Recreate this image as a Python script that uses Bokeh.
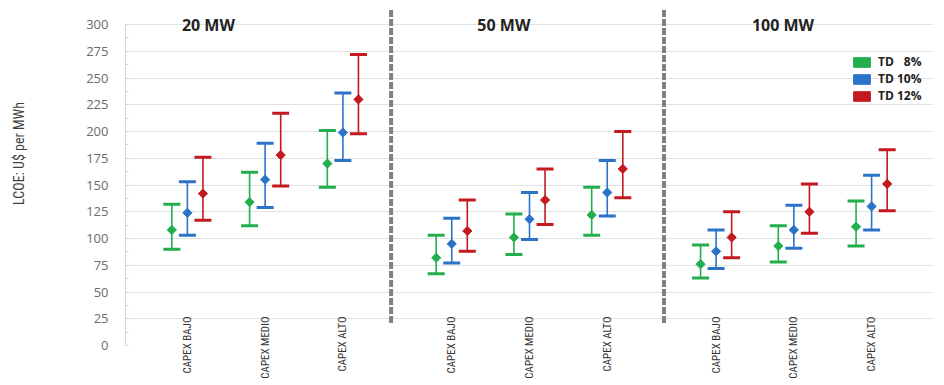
from math import pi
from bokeh.plotting import figure
from bokeh.models import (ColumnDataSource, FactorRange, Range1d, Legend, LegendItem,
                          SingleIntervalTicker)
from bokeh.transform import dodge
from bokeh.embed import file_html
from bokeh.resources import INLINE
from bokeh.core.properties import value

# ---------------- data ----------------
groups = ["20 MW", "50 MW", "100 MW"]
capex = ["CAPEX BAJO", "CAPEX MEDIO", "CAPEX ALTO"]
series = ["TD \u20078%", "TD 10%", "TD 12%"]

# order: 20 MW (bajo, medio, alto), 50 MW (...), 100 MW (...)
td8_low = [90, 112, 148, 67, 85, 103, 63, 78, 93]
td8_mid = [108, 134, 170, 82, 101, 122, 76, 93, 111]
td8_high = [132, 162, 201, 103, 123, 148, 94, 112, 135]

td10_low = [103, 129, 173, 77, 99, 121, 72, 91, 108]
td10_mid = [124, 155, 199, 95, 118, 143, 88, 108, 130]
td10_high = [153, 189, 236, 119, 143, 173, 108, 131, 159]

td12_low = [117, 149, 198, 88, 113, 138, 82, 105, 126]
td12_mid = [142, 178, 230, 107, 136, 165, 101, 125, 151]
td12_high = [176, 217, 272, 136, 165, 200, 125, 151, 183]

y_label = "LCOE: U$ per MWh"

# ---------------- styling ----------------
colors = ["#22AE4C", "#2B73C8", "#C3191F"]
series_dodge = [-0.2, 0.0, 0.2]
title_dx = [0.27, 0.67, 0.86]
divider_dx = [0.62, 0.73]
narrow = "'Liberation Sans Narrow', 'Arial Narrow', 'Roboto Condensed', sans-serif"
nan = float("nan")

factors = [(g, c) for g in groups for c in capex]

x_range = FactorRange(*factors, group_padding=0.4, range_padding=0.296,
                      range_padding_units="absolute")
p = figure(width=944, height=385, x_range=x_range, y_range=Range1d(0, 318.7),
           output_backend="svg", toolbar_location=None,
           min_border_left=125, min_border_right=11, min_border_top=4,
           min_border_bottom=40)
p.outline_line_color = None
p.background_fill_color = "white"

# axes
p.xgrid.grid_line_color = None
p.ygrid.grid_line_color = "#e2e2e2"
p.ygrid.grid_line_width = 1

yax = p.yaxis[0]
yax.ticker = SingleIntervalTicker(interval=25, num_minor_ticks=2)
yax.bounds = (0, 300)
yax.axis_line_color = "#d4d4d4"
yax.major_tick_in = 0
yax.major_tick_out = 0
yax.minor_tick_in = 3
yax.minor_tick_out = 0
yax.minor_tick_line_color = "#d4d4d4"
yax.major_label_standoff = 17
yax.major_label_text_font = "Open Sans"
yax.major_label_text_font_size = "13px"
yax.major_label_text_color = "#6b6b6b"
# leading em-spaces lift the centred title to where the reference has it
yax.axis_label = "\u2003\u2003\u2003\u2002" + y_label
yax.axis_label_standoff = 56
yax.axis_label_text_font = narrow
yax.axis_label_text_font_size = "14px"
yax.axis_label_text_font_style = "normal"
yax.axis_label_text_color = "#404040"

xax = p.xaxis[0]
xax.axis_line_color = None
xax.major_tick_line_color = None
xax.minor_tick_line_color = None
xax.major_label_orientation = pi / 2
xax.major_label_standoff = -35
xax.major_label_text_font = narrow
xax.major_label_text_font_size = "11px"
xax.major_label_text_color = "#333333"
xax.group_text_font_size = "0px"
xax.group_text_alpha = 0
xax.separator_line_color = None

# dividers between groups
for g, dx in zip(groups[:2], divider_dx):
    div_src = ColumnDataSource(dict(x=[(g, capex[-1])]))
    p.segment(x0=dodge("x", dx, range=x_range), x1=dodge("x", dx, range=x_range),
              y0=21, y1=315, source=div_src, line_color="#808080", line_width=4,
              line_dash="7 2")

lows = [td8_low, td10_low, td12_low]
mids = [td8_mid, td10_mid, td12_mid]
highs = [td8_high, td10_high, td12_high]

legend_items = []
for i in range(3):
    src = ColumnDataSource(dict(x=factors, low=lows[i], mid=mids[i], high=highs[i]))
    xd = dodge("x", series_dodge[i], range=x_range)
    c = colors[i]
    p.segment(x0=xd, x1=xd, y0="low", y1="high", source=src, line_color=c,
              line_width=1.6)
    p.scatter(x=xd, y="low", source=src, marker="dash", size=17, line_width=3,
              line_color=c)
    p.scatter(x=xd, y="high", source=src, marker="dash", size=17, line_width=3,
              line_color=c)
    p.scatter(x=xd, y="mid", source=src, marker="square", angle=pi / 4, size=6.5,
              fill_color=c, line_color=c)
    # legend-only swatch (no visible data)
    r = p.quad(left=[nan], right=[nan], top=[nan], bottom=[nan], fill_color=c,
               line_color=c)
    legend_items.append(LegendItem(label=series[i], renderers=[r]))

legend = Legend(items=legend_items, location=(726, 241), padding=0, margin=0,
                spacing=0, glyph_height=12, glyph_width=21, label_height=12,
                label_standoff=6, border_line_color=None, background_fill_alpha=0,
                label_text_font="Open Sans", label_text_font_style="bold",
                label_text_font_size="12px", label_text_color="#222222")
p.add_layout(legend, "center")

# group titles
for g, dx in zip(groups, title_dx):
    tsrc = ColumnDataSource(dict(x=[(g, capex[0])], y=[300], t=[g]))
    p.text(x=dodge("x", dx, range=x_range), y="y", text="t", source=tsrc,
           text_font=value("Open Sans"), text_font_style="bold",
           text_font_size="16px", text_color="#222222", text_align="center",
           text_baseline="middle")

open("out.html", "w").write(file_html(p, INLINE))
